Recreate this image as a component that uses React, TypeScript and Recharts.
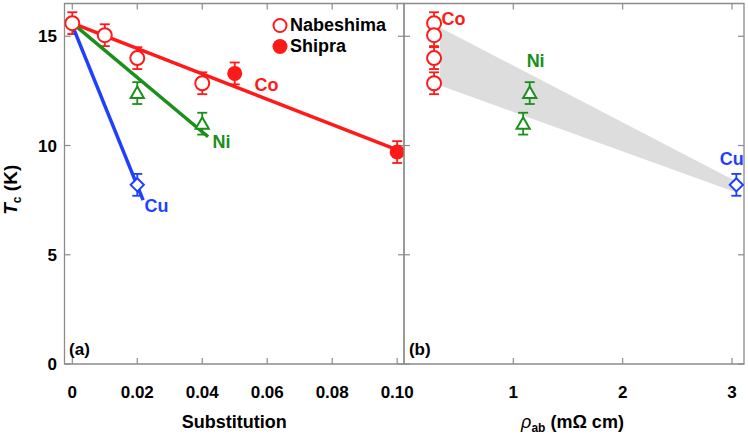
import { ComposedChart, Scatter, ErrorBar, XAxis, YAxis, Area, ReferenceArea, ReferenceDot, Legend } from 'recharts';

const FONT = '"Liberation Sans", Arial, Helvetica, sans-serif';
const AXIS = '#8c8c8c';
const RED = '#ff1a1a';
const GREEN = '#1a8f1a';
const BLUE = '#1f3fff';
const BAND = '#dddddd';

// page layout (px)
const W = 748;
const H = 435;
const TOP = 3.5;
const BOTTOM = 364;
const LEFT = 64.5;
const MID = 404;
const RIGHT = 744;

// (a) Tc vs substitution
const coNabeX = [0, 0.01, 0.02, 0.04];
const coNabeTc = [15.6, 15.05, 14.0, 12.85];
const coShipraX = [0.05, 0.1];
const coShipraTc = [13.3, 9.7];
const niX = [0.02, 0.04];
const niTc = [12.4, 11.0];
const cuX = [0.02];
const cuTc = [8.2];
const tcErr = 0.5;

// linear fits
const coFitX = [0, 0.1];
const coFitTc = [15.6, 9.8];
const niFitX = [0, 0.0418];
const niFitTc = [15.6, 10.4];
const cuFitX = [0, 0.0218];
const cuFitTc = [15.5, 7.5];

// (b) Tc vs rho_ab
const coRho = [0.275, 0.275, 0.275, 0.275];
const niRho = [1.15, 1.09];
const cuRho = [3.04];
const bandRho = [0.33, 3.04];
const bandLow = [12.75, 7.85];
const bandHigh = [15.4, 8.35];

const xTicksA = [0, 0.02, 0.04, 0.06, 0.08, 0.1];
const xTickLabelsA = ['0', '0.02', '0.04', '0.06', '0.08', '0.10'];
const xTicksB = [1, 2, 3];
const xTickLabelsB = ['1', '2', '3'];
const yTicks = [0, 5, 10, 15];

const X_DOMAIN_A: [number, number] = [-0.0024, 0.1021];
const X_DOMAIN_B: [number, number] = [0, 3.11];
const Y_DOMAIN: [number, number] = [0, 16.5];

const pts = (xs: number[], ys: number[], err?: number) => xs.map((x, i) => ({ x, y: ys[i], err }));
const bandRows = bandRho.map((x, i) => ({ x, band: [bandLow[i], bandHigh[i]] }));

const txt = { fontFamily: FONT, fontWeight: 'bold' as const };

const bottomTick = (ticks: number[], labels: string[]) => (p: any) => {
  const i = ticks.indexOf(p.payload.value);
  return (
    <g>
      <line x1={p.x} x2={p.x} y1={BOTTOM} y2={BOTTOM - 6} stroke={AXIS} strokeWidth={1.2} />
      <line x1={p.x} x2={p.x} y1={TOP} y2={TOP + 6} stroke={AXIS} strokeWidth={1.2} />
      <text x={p.x} y={BOTTOM + 34} textAnchor="middle" fontSize={17} fill="#000" {...txt}>{labels[i]}</text>
    </g>
  );
};

const sideTick = (showLabel: boolean, rightEdge: number) => (p: any) => (
  <g>
    <line x1={p.x} x2={p.x + 6} y1={p.y} y2={p.y} stroke={AXIS} strokeWidth={1.2} />
    <line x1={rightEdge - 6} x2={rightEdge} y1={p.y} y2={p.y} stroke={AXIS} strokeWidth={1.2} />
    {showLabel && (
      <text x={p.x - 7.5} y={p.y + 6} textAnchor="end" fontSize={17} fill="#000" {...txt}>{p.payload.value}</text>
    )}
  </g>
);

const openCircle = (c: string) => (p: any) => <circle cx={p.cx} cy={p.cy} r={7} fill="#fff" stroke={c} strokeWidth={2} />;
const dotFilled = (c: string) => (p: any) => <circle cx={p.cx} cy={p.cy} r={7.5} fill={c} />;
const triangle = (c: string) => (p: any) => (
  <path d={`M${p.cx},${p.cy - 6.5}L${p.cx + 6.6},${p.cy + 5}L${p.cx - 6.6},${p.cy + 5}Z`} fill="#fff" stroke={c} strokeWidth={2} />
);
const diamond = (c: string) => (p: any) => (
  <path d={`M${p.cx},${p.cy - 6.6}L${p.cx + 6.6},${p.cy}L${p.cx},${p.cy + 6.6}L${p.cx - 6.6},${p.cy}Z`} fill="#fff" stroke={c} strokeWidth={2} />
);
const noShape = () => <g />;

const note = (value: string, fill: string, fontSize = 18) => ({ value, position: 'center' as const, fill, fontSize, ...txt });

const errSeries = (data: any[], color: string) => (
  <Scatter data={data} dataKey="y" shape={noShape} isAnimationActive={false}>
    <ErrorBar dataKey="err" direction="y" width={5} stroke={color} strokeWidth={1.8} />
  </Scatter>
);

const layer: React.CSSProperties = { position: 'absolute', left: 0, top: 0 };

// markers on their own layer so they sit above the error bars
function MarkerLayer({ margin, xDomain, children }: { margin: any; xDomain: [number, number]; children: React.ReactNode }) {
  return (
    <div style={layer}>
      <ComposedChart width={W} height={H} margin={margin}>
        <XAxis type="number" dataKey="x" domain={xDomain} allowDataOverflow hide />
        <YAxis type="number" domain={Y_DOMAIN} allowDataOverflow hide />
        {children}
      </ComposedChart>
    </div>
  );
}

const legendContent = () => (
  <div style={{ fontFamily: FONT, fontWeight: 'bold', fontSize: 18, lineHeight: '21px', color: '#000' }}>
    <div style={{ display: 'flex', alignItems: 'center' }}>
      <svg width={16} height={21}><circle cx={8} cy={10.5} r={6.5} fill="#fff" stroke={RED} strokeWidth={2} /></svg>
      <span style={{ marginLeft: 2 }}>Nabeshima</span>
    </div>
    <div style={{ display: 'flex', alignItems: 'center' }}>
      <svg width={16} height={21}><circle cx={8} cy={10.5} r={7.5} fill={RED} /></svg>
      <span style={{ marginLeft: 2 }}>Shipra</span>
    </div>
  </div>
);

const yLabel = () => (
  <text x={17} y={(TOP + BOTTOM) / 2 + 6} transform={`rotate(-90, 17, ${(TOP + BOTTOM) / 2 + 6})`} textAnchor="middle" fontSize={19} fill="#000" {...txt}>
    <tspan fontStyle="italic">T</tspan>
    <tspan fontSize={12} dy={4}>c</tspan>
    <tspan dy={-4}> (K)</tspan>
  </text>
);

const xLabelA = () => (
  <text x={(LEFT + MID) / 2} y={BOTTOM + 64} textAnchor="middle" fontSize={18} fill="#000" {...txt}>Substitution</text>
);

const xLabelB = () => (
  <text x={(MID + RIGHT) / 2 - 1.5} y={BOTTOM + 64} textAnchor="middle" fontSize={18} fill="#000" {...txt}>
    <tspan fontStyle="italic" fontWeight="normal">ρ</tspan>
    <tspan fontSize={12} dy={4}>ab</tspan>
    <tspan dy={-4}> (mΩ cm)</tspan>
  </text>
);

export default function App() {
  const plotA = { top: TOP, right: W - MID, bottom: H - BOTTOM, left: LEFT };
  const plotB = { top: TOP, right: W - RIGHT, bottom: H - BOTTOM, left: MID };
  return (
    <div style={{ position: 'absolute', left: 0, top: 0, width: W, height: H, background: '#fff', fontFamily: FONT }}>
      <div style={layer}>
        <ComposedChart width={W} height={H} margin={{ top: TOP, right: W - MID, bottom: 0, left: 0 }}>
          <XAxis type="number" dataKey="x" domain={X_DOMAIN_A} allowDataOverflow ticks={xTicksA} interval={0}
            tickLine={false} axisLine={false} tickSize={0} tickMargin={0} height={H - BOTTOM}
            tick={bottomTick(xTicksA, xTickLabelsA)} label={xLabelA} />
          <YAxis type="number" domain={Y_DOMAIN} allowDataOverflow ticks={yTicks} interval={0}
            tickLine={false} axisLine={false} tickSize={0} tickMargin={0} width={LEFT}
            tick={sideTick(true, MID)} label={yLabel} />
          <ReferenceArea x1={X_DOMAIN_A[0]} x2={X_DOMAIN_A[1]} y1={0} y2={16.5} fill="none" stroke={AXIS} strokeWidth={1.3} ifOverflow="visible" />
          <Scatter data={pts(coFitX, coFitTc)} dataKey="y" line={{ stroke: RED, strokeWidth: 3.5 }} shape={noShape} isAnimationActive={false} />
          <Scatter data={pts(niFitX, niFitTc)} dataKey="y" line={{ stroke: GREEN, strokeWidth: 3.5 }} shape={noShape} isAnimationActive={false} />
          <Scatter data={pts(cuFitX, cuFitTc)} dataKey="y" line={{ stroke: BLUE, strokeWidth: 3.5 }} shape={noShape} isAnimationActive={false} />
          {errSeries(pts(coNabeX, coNabeTc, tcErr), RED)}
          {errSeries(pts(coShipraX, coShipraTc, tcErr), RED)}
          {errSeries(pts(niX, niTc, tcErr), GREEN)}
          {errSeries(pts(cuX, cuTc, tcErr), BLUE)}
          <ReferenceDot x={0.0598} y={12.8} r={0} fill="none" stroke="none" label={note('Co', RED)} />
          <ReferenceDot x={0.0459} y={10.2} r={0} fill="none" stroke="none" label={note('Ni', GREEN)} />
          <ReferenceDot x={0.0259} y={7.26} r={0} fill="none" stroke="none" label={note('Cu', BLUE)} />
          <ReferenceDot x={0.0022} y={0.69} r={0} fill="none" stroke="none" label={note('(a)', '#000', 17)} />
          <Legend content={legendContent} layout="vertical" verticalAlign="middle" align="center"
            wrapperStyle={{ position: 'absolute', top: 15, left: 272, width: 'auto' }} />
        </ComposedChart>
      </div>
      <MarkerLayer margin={plotA} xDomain={X_DOMAIN_A}>
        <Scatter data={pts(coNabeX, coNabeTc)} dataKey="y" shape={openCircle(RED)} isAnimationActive={false} />
        <Scatter data={pts(coShipraX, coShipraTc)} dataKey="y" shape={dotFilled(RED)} isAnimationActive={false} />
        <Scatter data={pts(niX, niTc)} dataKey="y" shape={triangle(GREEN)} isAnimationActive={false} />
        <Scatter data={pts(cuX, cuTc)} dataKey="y" shape={diamond(BLUE)} isAnimationActive={false} />
      </MarkerLayer>
      <div style={layer}>
        <ComposedChart width={W} height={H} data={bandRows} margin={{ top: TOP, right: W - RIGHT, bottom: 0, left: MID - 1 }}>
          <XAxis type="number" dataKey="x" domain={X_DOMAIN_B} allowDataOverflow ticks={xTicksB} interval={0}
            tickLine={false} axisLine={false} tickSize={0} tickMargin={0} height={H - BOTTOM}
            tick={bottomTick(xTicksB, xTickLabelsB)} label={xLabelB} />
          <YAxis type="number" domain={Y_DOMAIN} allowDataOverflow ticks={yTicks} interval={0}
            tickLine={false} axisLine={false} tickSize={0} tickMargin={0} width={1}
            tick={sideTick(false, RIGHT)} />
          <Area type="linear" dataKey="band" fill={BAND} fillOpacity={1} stroke="none" dot={false} activeDot={false} isAnimationActive={false} />
          <ReferenceArea x1={X_DOMAIN_B[0]} x2={X_DOMAIN_B[1]} y1={0} y2={16.5} fill="none" stroke={AXIS} strokeWidth={1.3} ifOverflow="visible" />
          {errSeries(pts(coRho, coNabeTc, tcErr), RED)}
          {errSeries(pts(niRho, niTc, tcErr), GREEN)}
          {errSeries(pts(cuRho, cuTc, tcErr), BLUE)}
          <ReferenceDot x={0.453} y={15.81} r={0} fill="none" stroke="none" label={note('Co', RED)} />
          <ReferenceDot x={1.204} y={13.9} r={0} fill="none" stroke="none" label={note('Ni', GREEN)} />
          <ReferenceDot x={2.998} y={9.4} r={0} fill="none" stroke="none" label={note('Cu', BLUE)} />
          <ReferenceDot x={0.144} y={0.69} r={0} fill="none" stroke="none" label={note('(b)', '#000', 17)} />
        </ComposedChart>
      </div>
      <MarkerLayer margin={plotB} xDomain={X_DOMAIN_B}>
        <Scatter data={pts(coRho, coNabeTc)} dataKey="y" shape={openCircle(RED)} isAnimationActive={false} />
        <Scatter data={pts(niRho, niTc)} dataKey="y" shape={triangle(GREEN)} isAnimationActive={false} />
        <Scatter data={pts(cuRho, cuTc)} dataKey="y" shape={diamond(BLUE)} isAnimationActive={false} />
      </MarkerLayer>
    </div>
  );
}
